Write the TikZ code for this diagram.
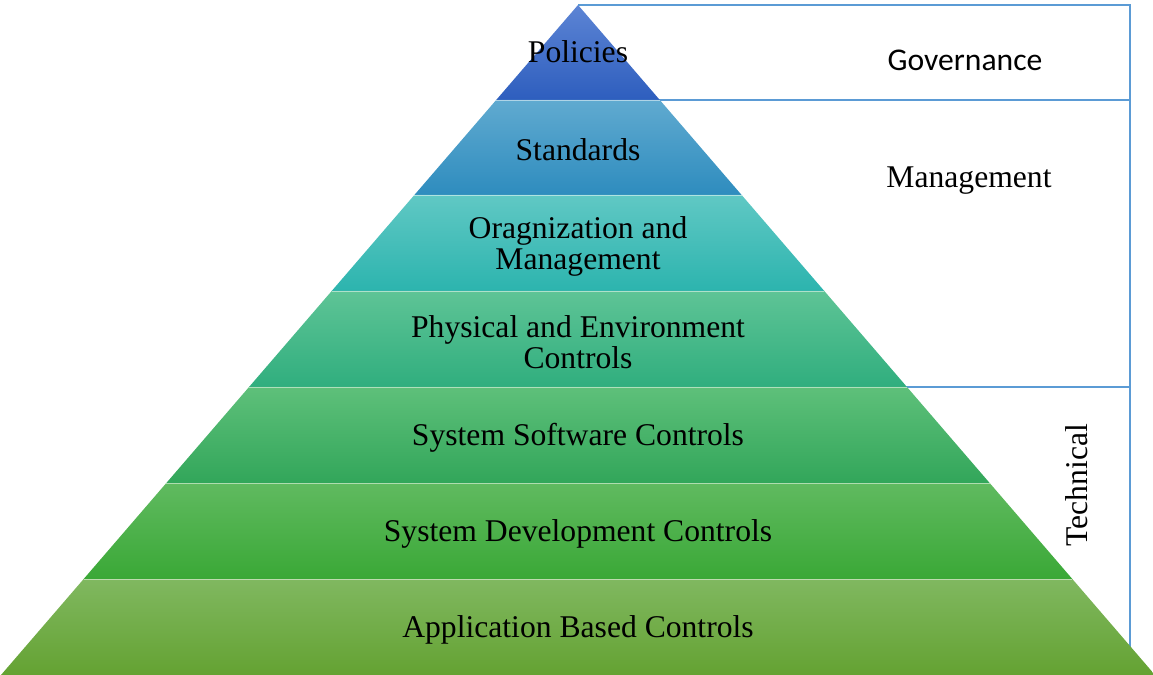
\documentclass[tikz,border=0pt]{standalone}
\usepackage{fontspec}
\setmainfont{Liberation Serif}
\newfontfamily\calibrifont{Carlito}
\usetikzlibrary{calc}

% layer colours, light top / dark bottom
\definecolor{polTop}{RGB}{92,132,212}
\definecolor{polBot}{RGB}{46,94,190}
\definecolor{stdTop}{RGB}{96,170,208}
\definecolor{stdBot}{RGB}{46,140,190}
\definecolor{orgTop}{RGB}{96,200,196}
\definecolor{orgBot}{RGB}{44,180,174}
\definecolor{phyTop}{RGB}{94,196,150}
\definecolor{phyBot}{RGB}{48,174,126}
\definecolor{sswTop}{RGB}{94,192,122}
\definecolor{sswBot}{RGB}{50,166,90}
\definecolor{devTop}{RGB}{96,186,96}
\definecolor{devBot}{RGB}{58,168,54}
\definecolor{appTop}{RGB}{128,184,96}
\definecolor{appBot}{RGB}{100,162,50}
\definecolor{bracketblue}{RGB}{91,155,213}

\begin{document}
\begin{tikzpicture}[x=0.02cm,y=-0.02cm,
  lbl/.style={align=center,font=\fontsize{18}{17.6}\selectfont},
  sidelbl/.style={font=\fontsize{18}{21}\selectfont},
  brk/.style={draw=bracketblue,line width=0.7pt},
  sep/.style={draw=white,line width=0.5pt,opacity=0.5}]
\useasboundingbox (0,0) rectangle (1153,675);

% bracket on the right
\coordinate (apex) at (578,5);
\coordinate (tr) at (1130,5);
\coordinate (br) at (1130,660);
\coordinate (g1) at (640,100);
\coordinate (g2) at (1130,100);
\coordinate (m1) at (880,387);
\coordinate (m2) at (1130,387);
\draw[brk] (apex) -- (tr) -- (br);
\draw[brk] (g1) -- (g2);
\draw[brk] (m1) -- (m2);

% pyramid layers
\foreach \ytop/\ybot/\ctop/\cbot in {5/100/polTop/polBot, 100/195/stdTop/stdBot,
    195/291/orgTop/orgBot, 291/387/phyTop/phyBot, 387/483/sswTop/sswBot,
    483/579/devTop/devBot, 579/675/appTop/appBot} {
  \pgfmathsetmacro\wt{(\ytop-5)*0.8612}
  \pgfmathsetmacro\wb{(\ybot-5)*0.8612}
  \shade[top color=\ctop,bottom color=\cbot]
    (578-\wt,\ytop) -- (578+\wt,\ytop) -- (578+\wb,\ybot) -- (578-\wb,\ybot) -- cycle;
  \draw[sep] (578-\wt,\ytop) -- (578+\wt,\ytop);
}

% labels
\node[lbl] (pol) at (578,52) {Policies};
\node[lbl] (std) at (578,150) {Standards};
\node[lbl] (org) at (578,246) {Oragnization and\\Management};
\node[lbl] (phy) at (578,342) {Physical and Environment\\Controls};
\node[lbl] (ssw) at (578,438) {System Software Controls};
\node[lbl] (dev) at (578,534) {System Development Controls};
\node[lbl] (app) at (578,630) {Application Based Controls};

\node[sidelbl,font=\calibrifont\fontsize{18}{21}\selectfont] (gov) at (965,60) {Governance};
\node[sidelbl] (mgmt) at (969,181) {Management};
\node[sidelbl,rotate=90] (tech) at (1077,485) {Technical};
\end{tikzpicture}
\end{document}
